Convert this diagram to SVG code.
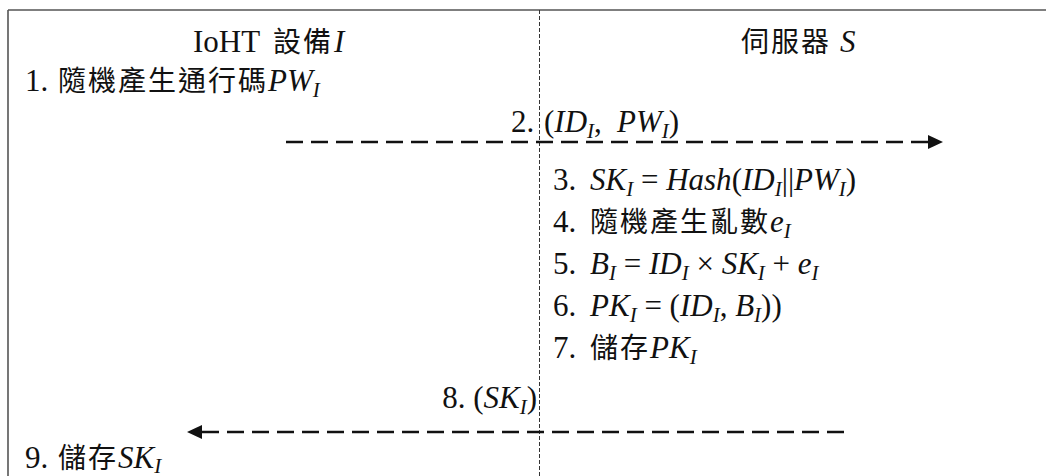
<svg xmlns="http://www.w3.org/2000/svg" width="1046" height="476" viewBox="0 0 1046 476">
<style>
text { font-family: "Liberation Serif", "Noto Sans CJK TC", serif; font-size: 31px; fill: #111; }
.i { font-style: italic; }
.s { font-style: italic; font-size: 21px; }
.cjk { font-family: "Noto Sans CJK TC", "Noto Sans CJK SC", sans-serif; font-size: 28px; letter-spacing: 2px; }
.frame { stroke: #555; stroke-width: 1.6; fill: none; }
.life { stroke: #333; stroke-width: 1; stroke-dasharray: 4 2; fill: none; }
.msg { stroke: #111; stroke-width: 2.6; stroke-dasharray: 17 8; fill: none; }
</style>
<defs>
<marker id="ah" markerUnits="userSpaceOnUse" markerWidth="16" markerHeight="14" refX="0" refY="7" orient="auto">
<path d="M0 0 L15 7 L0 14 z" fill="#111"/>
</marker>
</defs>
<rect width="1046" height="476" fill="#fff"/>
<g id="frame">
<path class="frame" d="M8 10 H1046 M8 10 V476"/>
<path class="life" d="M539.5 10 V476"/>
</g>
<g id="device-header"><text x="193" y="52">IoHT<tspan x="273" class="cjk">設備</tspan><tspan x="334" class="i">I</tspan></text></g>
<g id="server-header"><text x="741" y="52"><tspan class="cjk">伺服器</tspan><tspan x="840" class="i">S</tspan></text></g>
<g id="step1"><text x="25" y="91">1.<tspan x="58" class="cjk">隨機產生通行碼</tspan><tspan class="i">PW</tspan><tspan class="s" dy="6">I</tspan></text></g>
<g id="step2"><text x="511" y="132">2.<tspan x="544">(</tspan><tspan class="i">ID</tspan><tspan class="s" dy="6">I</tspan><tspan dy="-6">,</tspan><tspan x="617" class="i">PW</tspan><tspan class="s" dy="6">I</tspan><tspan dy="-6">)</tspan></text></g>
<g id="step3"><text x="553" y="190">3.<tspan x="590" class="i">SK</tspan><tspan class="s" dy="6">I</tspan><tspan dy="-6"> = </tspan><tspan class="i">Hash</tspan>(<tspan class="i">ID</tspan><tspan class="s" dy="6">I</tspan><tspan dy="-6">||</tspan><tspan class="i">PW</tspan><tspan class="s" dy="6">I</tspan><tspan dy="-6">)</tspan></text></g>
<g id="step4"><text x="553" y="232">4.<tspan x="590" class="cjk">隨機產生亂數</tspan><tspan class="i">e</tspan><tspan class="s" dy="6">I</tspan></text></g>
<g id="step5"><text x="553" y="274">5.<tspan x="590" class="i">B</tspan><tspan class="s" dy="6">I</tspan><tspan dy="-6"> = </tspan><tspan class="i">ID</tspan><tspan class="s" dy="6">I</tspan><tspan dy="-6"> × </tspan><tspan class="i">SK</tspan><tspan class="s" dy="6">I</tspan><tspan dy="-6"> + </tspan><tspan class="i">e</tspan><tspan class="s" dy="6">I</tspan></text></g>
<g id="step6"><text x="553" y="316">6.<tspan x="590" class="i">PK</tspan><tspan class="s" dy="6">I</tspan><tspan dy="-6"> = (</tspan><tspan class="i">ID</tspan><tspan class="s" dy="6">I</tspan><tspan dy="-6">, </tspan><tspan class="i">B</tspan><tspan class="s" dy="6">I</tspan><tspan dy="-6">))</tspan></text></g>
<g id="step7"><text x="553" y="358">7.<tspan x="590" class="cjk">儲存</tspan><tspan class="i">PK</tspan><tspan class="s" dy="6">I</tspan></text></g>
<g id="step8"><text x="537" y="408" text-anchor="end">8. (<tspan class="i">SK</tspan><tspan class="s" dy="6">I</tspan><tspan dy="-6">)</tspan></text></g>
<g id="step9"><text x="25" y="468">9.<tspan x="58" class="cjk">儲存</tspan><tspan class="i">SK</tspan><tspan class="s" dy="5">I</tspan></text></g>
<g id="connectors">
<path id="msg-2" class="msg" d="M286 142 H928" marker-end="url(#ah)"/>
<path id="msg-8" class="msg" d="M844 432 H202" marker-end="url(#ah)"/>
</g>
</svg>
